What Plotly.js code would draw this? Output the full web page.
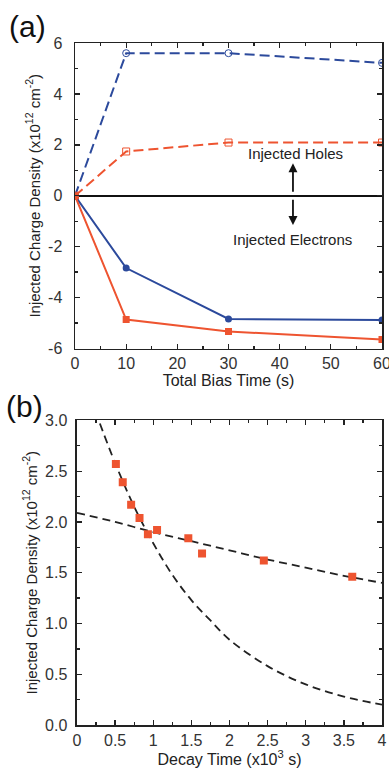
<!DOCTYPE html>
<html>
<head>
<meta charset="utf-8">
<script src="https://cdn.plot.ly/plotly-3.0.1.min.js"></script>
<style>html,body{margin:0;padding:0;background:#fff;}#chart{width:389px;height:768px;}</style>
</head>
<body>
<div id="chart"></div>
<script>
// ---- Panel (a): injected charge vs total bias time ----
const biasTime = [0, 10, 30, 60];
const holesBlue = [0, 5.6, 5.6, 5.22];
const holesOrange = [0, 1.74, 2.09, 2.09];
const electronsBlue = [0, -2.84, -4.84, -4.88];
const electronsOrange = [0, -4.86, -5.33, -5.65];
const aYTickVals = [-6, -4, -2, 0, 2, 4, 6];
const aYTickText = ["-6", "-4", "-2", "0", "2", "4", "6"];

// ---- Panel (b): injected charge vs decay time ----
const decayTime = [0.51, 0.60, 0.71, 0.82, 0.93, 1.05, 1.46, 1.64, 2.45, 3.61];
const decayCharge = [2.57, 2.39, 2.17, 2.04, 1.88, 1.92, 1.84, 1.69, 1.62, 1.46];
const slowFitX = [0, 0.5, 1, 1.5, 2, 2.5, 3, 3.5, 4];
const slowFitY = [2.09, 2.00, 1.90, 1.81, 1.72, 1.63, 1.55, 1.47, 1.40];
const fastFitX = [0.3, 0.5, 0.75, 1.0, 1.25, 1.5, 1.75, 2.0, 2.5, 3.0, 3.5, 4.0];
const fastFitY = [2.97, 2.58, 2.15, 1.79, 1.48, 1.23, 1.03, 0.84, 0.58, 0.40, 0.28, 0.20];

const BLUE = '#2c4a9c';
const ORANGE = '#ee5430';
const FONT = 'Liberation Sans, Arial, sans-serif';

const traces = [
  {x: biasTime, y: holesBlue, xaxis: 'x', yaxis: 'y', mode: 'lines+markers',
   line: {color: BLUE, width: 2, dash: '10px,5px'},
   marker: {symbol: 'circle-open', size: 7, color: BLUE, line: {width: 1}}},
  {x: biasTime, y: holesOrange, xaxis: 'x', yaxis: 'y', mode: 'lines+markers',
   line: {color: ORANGE, width: 2, dash: '10px,5px'},
   marker: {symbol: 'square-open', size: 7, color: ORANGE, line: {width: 1}}},
  {x: biasTime, y: electronsBlue, xaxis: 'x', yaxis: 'y', mode: 'lines+markers',
   line: {color: BLUE, width: 2},
   marker: {symbol: 'circle', size: 7, color: BLUE}},
  {x: biasTime, y: electronsOrange, xaxis: 'x', yaxis: 'y', mode: 'lines+markers',
   line: {color: ORANGE, width: 2},
   marker: {symbol: 'square', size: 7, color: ORANGE}},
  {x: slowFitX, y: slowFitY, xaxis: 'x2', yaxis: 'y2', mode: 'lines',
   line: {color: '#222', width: 1.8, dash: '8px,5px', shape: 'spline'}},
  {x: fastFitX, y: fastFitY, xaxis: 'x2', yaxis: 'y2', mode: 'lines',
   line: {color: '#222', width: 1.8, dash: '8px,5px', shape: 'spline'}},
  {x: decayTime, y: decayCharge, xaxis: 'x2', yaxis: 'y2', mode: 'markers',
   marker: {symbol: 'square', size: 8, color: ORANGE}}
];

const axisCommon = {
  showline: true, linecolor: '#222', linewidth: 1.5, mirror: 'ticks',
  ticks: 'inside', ticklen: 5, tickwidth: 1.3, tickcolor: '#222',
  showgrid: false, zeroline: false,
  tickfont: {family: FONT, size: 16, color: '#333'},
  title: {font: {family: FONT, size: 15, color: '#222'}}
};
function ax(extra) { return Object.assign(JSON.parse(JSON.stringify(axisCommon)), extra); }

const layout = {
  width: 389, height: 768,
  margin: {l: 75, r: 7, t: 43, b: 43},
  paper_bgcolor: '#fff', plot_bgcolor: '#fff',
  showlegend: false,
  font: {family: FONT, color: '#222'},
  xaxis: ax({domain: [0, 1], anchor: 'y', range: [0, 60], dtick: 10, tick0: 0,
    ticklabeloverflow: 'allow',
    minor: {dtick: 5, ticks: 'inside', ticklen: 3, tickcolor: '#222'},
    title: {text: 'Total Bias Time (s)', standoff: 1, font: {family: FONT, size: 16, color: '#222'}}}),
  yaxis: ax({domain: [0.552, 1], anchor: 'x', range: [-6, 6], tickmode: 'array',
    tickvals: aYTickVals, ticktext: aYTickText, ticklabelstandoff: 8,
    zeroline: true, zerolinecolor: '#111', zerolinewidth: 1.5,
    minor: {tickmode: 'linear', dtick: 1, tick0: 0, ticks: 'inside', ticklen: 3, tickcolor: '#222'},
    title: {text: 'Injected Charge Density (x10<sup>12</sup> cm<sup>-2</sup>)', standoff: 4,
      font: {family: FONT, size: 15, color: '#222'}}}),
  xaxis2: ax({domain: [0.0065, 1], anchor: 'y2', range: [0, 4], dtick: 0.5, tick0: 0,
    ticklabeloverflow: 'allow',
    minor: {dtick: 0.25, ticks: 'inside', ticklen: 3, tickcolor: '#222'},
    title: {text: 'Decay Time (x10<sup>3</sup> s)', standoff: 1, font: {family: FONT, size: 16, color: '#222'}}}),
  yaxis2: ax({domain: [0, 0.4466], anchor: 'x2', range: [0, 3], dtick: 0.5, tick0: 0,
    tickformat: '.1f', ticklabelstandoff: 5,
    minor: {dtick: 0.25, ticks: 'inside', ticklen: 3, tickcolor: '#222'},
    title: {text: 'Injected Charge Density (x10<sup>12</sup> cm<sup>-2</sup>)', standoff: 4,
      font: {family: FONT, size: 15, color: '#222'}}}),
  annotations: [
    {xref: 'x', yref: 'y', x: 43, y: 1.65, text: 'Injected Holes', showarrow: false,
     font: {family: FONT, size: 15, color: '#222'}},
    {xref: 'x', yref: 'y', x: 42.6, y: -1.72, text: 'Injected Electrons', showarrow: false,
     font: {family: FONT, size: 15, color: '#222'}},
    {xref: 'x', yref: 'y', axref: 'x', ayref: 'y', x: 42.6, y: 1.28, ax: 42.6, ay: 0.1,
     text: '', showarrow: true, arrowhead: 2, arrowsize: 1, arrowwidth: 1.8, arrowcolor: '#111'},
    {xref: 'x', yref: 'y', axref: 'x', ayref: 'y', x: 42.6, y: -1.15, ax: 42.6, ay: -0.1,
     text: '', showarrow: true, arrowhead: 2, arrowsize: 1, arrowwidth: 1.8, arrowcolor: '#111'},
    {xref: 'paper', yref: 'paper', xanchor: 'left', yanchor: 'middle', x: -0.22, y: 1.024,
     text: '(a)', showarrow: false, font: {family: FONT, size: 30, color: '#111'}},
    {xref: 'paper', yref: 'paper', xanchor: 'left', yanchor: 'middle', x: -0.23, y: 0.467,
     text: '(b)', showarrow: false, font: {family: FONT, size: 30, color: '#111'}}
  ]
};

Plotly.newPlot('chart', traces, layout, {displayModeBar: false, staticPlot: true});
</script>
</body>
</html>
